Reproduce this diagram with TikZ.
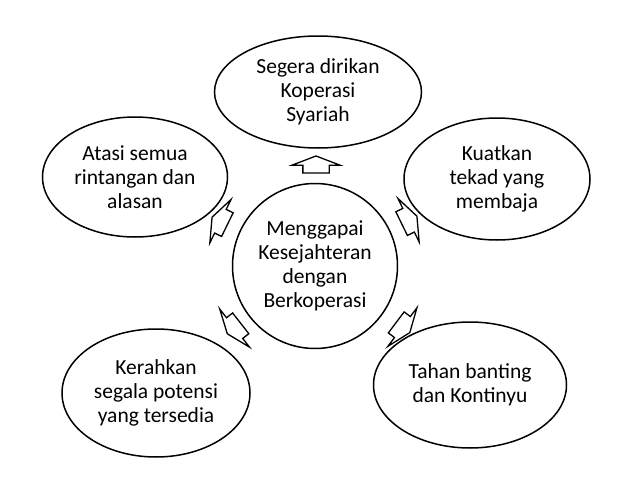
\documentclass[tikz,border=0pt]{standalone}
\usepackage{fontspec}
\setmainfont{Carlito}
\usetikzlibrary{shapes.geometric,shapes.arrows}

\begin{document}
\begin{tikzpicture}[x=1pt,y=-1pt,line width=1.5pt,
  bubble/.style={draw,fill=white,ellipse,inner sep=0pt},
  caption/.style={align=center,inner sep=0pt,font=\fontsize{21.5}{24}\selectfont},
  pointer/.style={draw,fill=white,single arrow,inner xsep=0pt,inner ysep=12.5pt,
    minimum height=17pt,single arrow head extend=11pt,
    single arrow tip angle=138,line width=1.3pt}]
\useasboundingbox (0,0) rectangle (638,479);
% arrows first, ellipses on top
\node[pointer,rotate=90] (a1) at (316,167) {};
\node[pointer,rotate=26] (a2) at (407,221) {};
\node[pointer,rotate=-37] (a3) at (401,326) {};
\node[pointer,rotate=218] (a4) at (236,327) {};
\node[pointer,rotate=154] (a5) at (222,222) {};
% center
\node[bubble,minimum width=165pt,minimum height=165pt] (hub) at (315,266) {};
\node[caption] (hubtext) at (hub) {Menggapai\\Kesejahteran\\dengan\\Berkoperasi};
% outer ellipses
\node[bubble,minimum width=207pt,minimum height=112pt] (top) at (318,92) {};
\node[caption] (toptext) at (top) {Segera dirikan\\Koperasi\\Syariah};
\node[bubble,minimum width=186pt,minimum height=122pt] (right) at (497,179) {};
\node[caption] (righttext) at (right) {Kuatkan\\tekad yang\\membaja};
\node[bubble,minimum width=193pt,minimum height=126pt] (lowright) at (470,385) {};
\node[caption] (lowrighttext) at (lowright) {Tahan banting\\dan Kontinyu};
\node[bubble,minimum width=188pt,minimum height=128pt] (lowleft) at (156,393) {};
\node[caption] (lowlefttext) at (lowleft) {Kerahkan\\segala potensi\\yang tersedia};
\node[bubble,minimum width=185pt,minimum height=120pt] (left) at (135,177) {};
\node[caption] (lefttext) at (left) {Atasi semua\\rintangan dan\\alasan};
\end{tikzpicture}
\end{document}
